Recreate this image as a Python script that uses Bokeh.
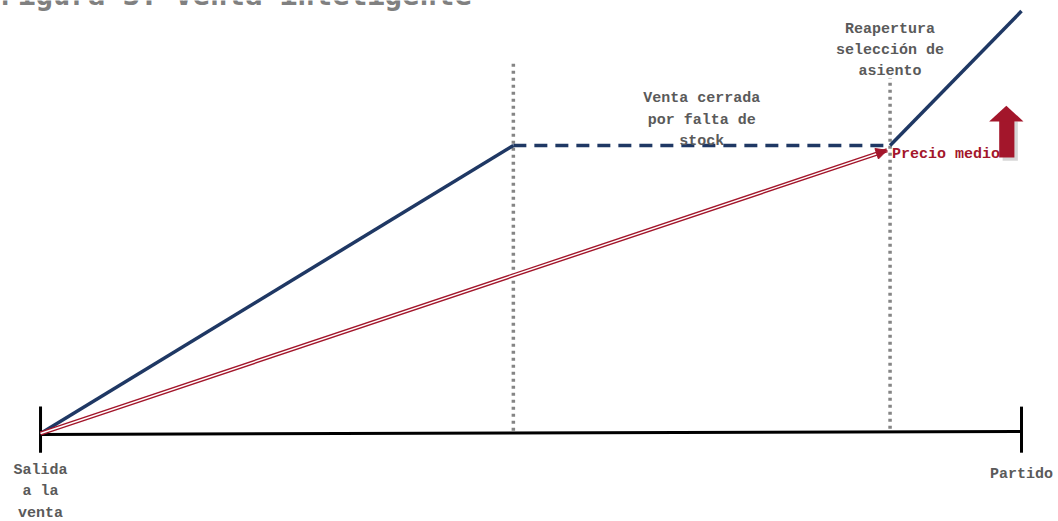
from bokeh.plotting import figure
from bokeh.models import Range1d, Arrow, NormalHead
from bokeh.core.properties import value
from bokeh.embed import file_html
from bokeh.resources import INLINE

# ---- data (time 0 = salida a la venta, 100 = partido; price index) ----
hitos_x = [0, 48.2, 86.6, 100]          # salida, cierre, reapertura, partido
precio_venta = [0, 60, 60, 88]          # precio de venta en cada hito
precio_medio_x = [0, 86.3]
precio_medio_y = [0, 59]
base_x = [0, 100]
base_y = [-0.2, 0.4]
etiquetas_fase = ["Venta cerrada\npor falta de\nstock", "Reapertura\nselección de\nasiento"]
etiquetas_eje = ["Salida\na la\nventa", "Partido"]
titulo = "Figura 3. Venta inteligente"

NAVY = "#1f3864"
RED = "#a3162b"
GRAY_TXT = "#5a5a5a"
DOT = "#858585"
FONT = value("Liberation Mono")

p = figure(width=1058, height=521, output_backend="svg", toolbar_location=None,
           x_range=Range1d(-4.08, 103.77), y_range=Range1d(-18.33, 90.2),
           min_border=0, outline_line_color=None)
p.axis.visible = False
p.grid.visible = False

# baseline and end ticks
p.line(base_x, base_y, line_color="black", line_width=3)
p.segment(x0=[base_x[0], base_x[1]], y0=[-4, -4], x1=[base_x[0], base_x[1]], y1=[5.6, 5.6],
          line_color="black", line_width=3)

# dotted vertical markers
p.segment(x0=[hitos_x[1], hitos_x[2]], y0=[0.6, 1.0], x1=[hitos_x[1], hitos_x[2]], y1=[77, 74],
          line_color=DOT, line_width=3.5, line_dash="3 4")

# selling price line
p.line(hitos_x[:2], precio_venta[:2], line_color=NAVY, line_width=3.5)
p.line(hitos_x[1:3], precio_venta[1:3], line_color=NAVY, line_width=3.5, line_dash="13 8")
p.line(hitos_x[2:], precio_venta[2:], line_color=NAVY, line_width=3.5)

# average price (double red line with arrow)
p.line(precio_medio_x, precio_medio_y, line_color=RED, line_width=4.2)
p.line(precio_medio_x, precio_medio_y, line_color="white", line_width=1.4)
p.add_layout(Arrow(x_start=precio_medio_x[0], y_start=precio_medio_y[0],
                   x_end=precio_medio_x[1], y_end=precio_medio_y[1], line_alpha=0,
                   end=NormalHead(size=11, fill_color=RED, line_color=RED)))

# big red up arrow (with soft shadow)
ax = 98.5
p.vbar(x=[ax + 0.35], bottom=[56.8], top=[65], width=1.55, fill_color="#777777",
       fill_alpha=0.3, line_alpha=0)
p.vbar(x=[ax], bottom=[57.5], top=[65.2], width=1.55, fill_color=RED, line_alpha=0)
p.patch([ax - 1.8, ax + 1.7, ax - 0.05], [65, 65, 68.3], fill_color=RED, line_alpha=0)

# texts
p.text(x=[hitos_x[2] + 0.2], y=[58.1], text=["Precio medio"], text_color=RED,
       text_font=FONT, text_font_style="bold", text_font_size="15px",
       text_baseline="middle", text_align="left")
p.text(x=[(hitos_x[1] + hitos_x[2]) / 2, hitos_x[2]], y=[71.5, 86.0], text=etiquetas_fase,
       text_color=GRAY_TXT, text_font=FONT, text_font_style="bold", text_font_size="15px",
       text_baseline="top", text_align="center", text_line_height=1.26)
p.text(x=[hitos_x[0], hitos_x[3]], y=[-5.9, -6.7], text=etiquetas_eje,
       text_color=GRAY_TXT, text_font=FONT, text_font_style="bold", text_font_size="15px",
       text_baseline="top", text_align="center", text_line_height=1.26)
p.text(x=[-4.08], y=[91.4], text=[titulo], text_color="#808080", text_font=value("DejaVu Sans Mono"),
       text_font_style="bold", text_font_size="29px", text_baseline="alphabetic", text_align="left")

open("out.html", "w").write(file_html(p, INLINE))
